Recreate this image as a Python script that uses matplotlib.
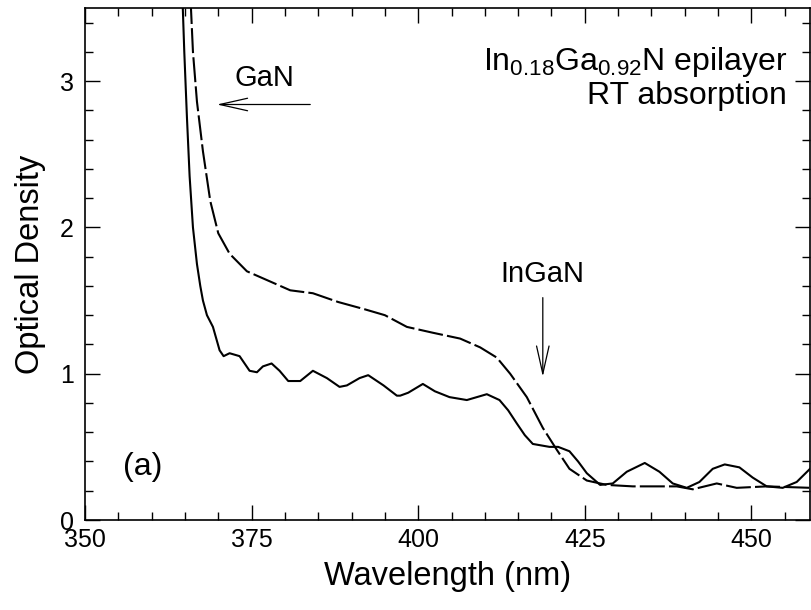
import matplotlib.pyplot as plt
from matplotlib.ticker import MultipleLocator

plt.rcParams["font.family"] = ["Liberation Sans", "DejaVu Sans"]
plt.rcParams["mathtext.fontset"] = "custom"
plt.rcParams["mathtext.rm"] = "Liberation Sans"
plt.rcParams["mathtext.it"] = "Liberation Sans:italic"

# epilayer absorption (solid)
wl_epi = [364.6, 364.9, 365.3, 365.7, 366.2, 366.8, 367.3, 367.7, 368.3, 369.2,
          370.2, 370.8, 371.7, 373.2, 374.7, 375.8, 376.7, 378.0, 379.2, 380.5,
          382.3, 384.2, 386.3, 388.2, 389.3, 391.2, 392.5, 394.8, 396.8, 397.3,
          398.5, 400.7, 402.5, 404.7, 407.3, 410.3, 412.2, 413.5, 414.8, 416.0,
          417.2, 419.7, 421.0, 422.7, 424.0, 425.3, 427.3, 429.2, 431.3, 434.0,
          436.2, 438.2, 440.3, 442.2, 444.2, 446.0, 448.2, 450.2, 452.3, 454.7,
          456.8, 458.8]
od_epi = [3.6, 3.2, 2.75, 2.35, 2.0, 1.75, 1.6, 1.5, 1.40, 1.32,
          1.16, 1.12, 1.14, 1.12, 1.02, 1.01, 1.05, 1.07, 1.02, 0.95,
          0.95, 1.02, 0.97, 0.91, 0.92, 0.97, 0.99, 0.92, 0.85, 0.85,
          0.87, 0.93, 0.88, 0.84, 0.82, 0.86, 0.82, 0.75, 0.66, 0.58,
          0.52, 0.50, 0.50, 0.47, 0.40, 0.32, 0.24, 0.25, 0.33, 0.39,
          0.33, 0.25, 0.22, 0.26, 0.35, 0.38, 0.36, 0.29, 0.23, 0.22,
          0.26, 0.35]

# GaN template absorption (dashed)
wl_gan = [365.8, 366.2, 366.8, 367.7, 368.8, 370.0, 371.7, 374.3, 377.3, 380.8,
          384.2, 388.0, 392.0, 395.0, 398.3, 402.2, 406.3, 409.3, 411.8, 413.8,
          416.3, 418.7, 420.8, 422.7, 425.3, 428.3, 432.2, 435.2, 438.8, 441.2,
          444.8, 447.8, 452.3, 458.9]
od_gan = [3.6, 3.2, 2.86, 2.52, 2.18, 1.96, 1.82, 1.70, 1.64, 1.57,
          1.55, 1.49, 1.44, 1.40, 1.32, 1.28, 1.24, 1.18, 1.11, 1.00,
          0.84, 0.63, 0.48, 0.35, 0.27, 0.24, 0.23, 0.23, 0.23, 0.21,
          0.25, 0.22, 0.23, 0.22]

fig = plt.figure(figsize=(8.11, 6.10), dpi=100)
ax = fig.add_axes([0.1048, 0.1475, 0.894, 0.8395])

ax.plot(wl_epi, od_epi, color="black", lw=1.5)
ax.plot(wl_gan, od_gan, color="black", lw=1.5, dashes=(12, 2))

ax.set_xlim(350, 458.8)
ax.set_ylim(0, 3.5)
ax.xaxis.set_major_locator(MultipleLocator(25))
ax.xaxis.set_minor_locator(MultipleLocator(5))
ax.yaxis.set_major_locator(MultipleLocator(1))
ax.yaxis.set_minor_locator(MultipleLocator(0.2))
ax.tick_params(which="both", direction="in", top=True, right=True, width=1)
ax.tick_params(which="major", length=11, labelsize=18)
ax.tick_params(which="minor", length=5.5)
ax.tick_params(axis="y", pad=8)
ax.tick_params(axis="x", pad=6)
for sp in ax.spines.values():
    sp.set_linewidth(1.2)

ax.set_xlabel("Wavelength (nm)", fontsize=23.5, labelpad=6)
ax.set_ylabel("Optical Density", fontsize=23.5, labelpad=10)

ax.text(455.4, 3.13, r"In$_{0.18}$Ga$_{0.92}$N epilayer", fontsize=23,
        ha="right", va="center")
ax.text(455.4, 2.90, "RT absorption", fontsize=23, ha="right", va="center")
ax.text(358.7, 0.36, "(a)", fontsize=23, ha="center", va="center")

ax.text(377.0, 3.02, "GaN", fontsize=21, ha="center", va="center")
ax.annotate("", xy=(369.8, 2.84), xytext=(383.8, 2.84),
            arrowprops=dict(arrowstyle="->,head_length=2.0,head_width=0.45",
                            lw=0.9, color="black", shrinkA=0, shrinkB=0))
ax.text(418.7, 1.68, "InGaN", fontsize=21, ha="center", va="center")
ax.annotate("", xy=(418.7, 0.98), xytext=(418.7, 1.52),
            arrowprops=dict(arrowstyle="->,head_length=2.0,head_width=0.45",
                            lw=0.9, color="black", shrinkA=0, shrinkB=0))

fig.savefig("out.png", dpi=100)
